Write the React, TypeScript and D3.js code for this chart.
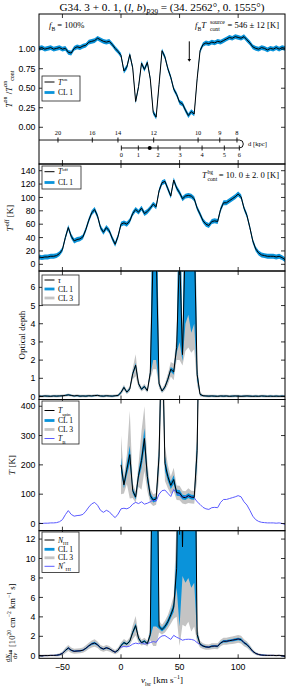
import React from "react";
import * as d3 from "d3";

// velocity channels (km/s)
const vel = [
  -70, -67.5, -65, -62.5, -60, -57.5, -55, -52.5, -50, -47.5,
  -45, -42.5, -40, -37.5, -35, -32.5, -30, -27.5, -25, -22.5,
  -20, -17.5, -15, -12.5, -10, -7.5, -5, -2.5, 0, 2.5,
  5, 7.5, 10, 12.5, 15, 17.5, 20, 22.5, 25, 27.5,
  30, 32.5, 35, 37.5, 40, 42.5, 45, 47.5, 50, 52.5,
  55, 57.5, 60, 62.5, 65, 67.5, 70, 72.5, 75, 77.5,
  80, 82.5, 85, 87.5, 90, 92.5, 95, 97.5, 100, 102.5,
  105, 107.5, 110, 112.5, 115, 117.5, 120, 122.5, 125, 127.5,
  130, 132.5, 135, 137.5, 140,
];

// T_on / T_on_cont
const tOn = [
  1.01, 1.02, 1.0, 1.01, 1.02, 1.0, 1.01, 1.02, 1.0, 1.01,
  0.96, 0.95, 1.01, 1.03, 1.02, 1.04, 1.05, 1.09, 1.1, 1.11,
  1.14, 1.12, 1.1, 1.09, 1.1, 1.06, 1.01, 0.97, 0.92, 0.72,
  0.77, 0.93, 0.76, 0.33, 0.52, 0.82, 0.74, 0.83, 0.62, 0.19,
  0.13, 0.55, 0.98, 0.9, 0.75, 0.64, 0.49, 0.42, 0.32, 0.3,
  0.22, 0.15, 0.2, 0.17, 0.62, 0.98, 1.06, 1.08, 1.07, 1.09,
  1.08, 1.1, 1.09, 1.11, 1.13, 1.15, 1.14, 1.16, 1.15, 1.14,
  1.16, 1.12, 1.08, 1.03, 1.01, 1.0, 1.02, 1.01, 0.99, 1.01,
  1.0, 1.02, 1.0, 1.02, 1.01,
];
const tOnErr = 0.03;

// T_off [K]
const tOff = [
  11, 10, 11, 11, 12, 12, 13, 16, 22, 40,
  55, 42, 35, 37, 38, 41, 52, 66, 77, 82,
  72, 55, 48, 55, 50, 39, 30, 42, 60, 62,
  60, 65, 76, 82, 78, 84, 76, 79, 84, 90,
  86, 110, 122, 124, 113, 102, 126, 114, 107, 98,
  102, 103, 102, 98, 84, 75, 65, 60, 58, 64,
  65, 64, 82, 92, 92, 95, 98, 101, 105, 101,
  84, 73, 55, 35, 23, 17, 14, 13, 12, 12,
  12, 11, 12, 10, 7,
];
const tOffErr = 3.7;

// optical depth and CL half-widths
const tau = [
  0.02, 0.01, 0.03, 0.02, 0.01, 0.03, 0.02, 0.03, 0.04, 0.06,
  0.09, 0.06, 0.03, 0.05, 0.02, 0.03, 0.02, 0.04, 0.03, 0.05,
  0.06, 0.03, 0.02, 0.04, 0.03, 0.02, 0.04, 0.06, 0.22, 0.5,
  0.24, 0.42, 1.25, 1.72, 0.7, 0.4, 0.55, 0.32, 1.3, 8,
  8, 0.7, 0.3, 0.52, 0.95, 1.5, 1.35, 2.7, 8, 2.3,
  9, 9, 9, 9, 1.2, 0.12, 0.04, 0.03, 0.02, 0.03,
  0.02, 0.01, 0.03, 0.02, 0.03, 0.01, 0.02, 0.03, 0.02, 0.01,
  0.02, 0.03, 0.02, 0.01, 0.02, 0.01, 0.03, 0.02, 0.01, 0.02,
  0.01, 0.02, 0.01, 0.02, 0.01,
];
const tauCl1 = [
  0.03, 0.03, 0.03, 0.03, 0.03, 0.03, 0.03, 0.03, 0.03, 0.03,
  0.03, 0.03, 0.03, 0.03, 0.03, 0.03, 0.03, 0.03, 0.03, 0.03,
  0.03, 0.03, 0.03, 0.03, 0.03, 0.03, 0.03, 0.04, 0.05, 0.06,
  0.05, 0.06, 0.1, 0.12, 0.07, 0.05, 0.06, 0.05, 0.15, 6,
  6, 0.1, 0.05, 0.07, 0.1, 0.12, 0.15, 0.3, 5, 0.35,
  5, 4.5, 5.5, 5, 0.3, 0.05, 0.03, 0.03, 0.03, 0.03,
  0.03, 0.03, 0.03, 0.03, 0.03, 0.03, 0.03, 0.03, 0.03, 0.03,
  0.03, 0.03, 0.03, 0.03, 0.03, 0.03, 0.03, 0.03, 0.03, 0.03,
  0.03, 0.03, 0.03, 0.03, 0.03,
];
const tauCl3 = [
  0.07, 0.07, 0.07, 0.07, 0.07, 0.07, 0.07, 0.07, 0.07, 0.07,
  0.08, 0.07, 0.07, 0.07, 0.07, 0.07, 0.07, 0.07, 0.07, 0.07,
  0.07, 0.07, 0.07, 0.07, 0.07, 0.07, 0.07, 0.08, 0.12, 0.15,
  0.12, 0.15, 0.3, 0.6, 0.2, 0.12, 0.15, 0.12, 0.35, 6.5,
  6.5, 0.25, 0.12, 0.18, 0.3, 0.4, 0.45, 0.7, 6, 0.6,
  6.5, 6.3, 6.6, 6.4, 0.6, 0.12, 0.07, 0.07, 0.07, 0.07,
  0.07, 0.07, 0.07, 0.07, 0.07, 0.07, 0.07, 0.07, 0.07, 0.07,
  0.07, 0.07, 0.07, 0.07, 0.07, 0.07, 0.07, 0.07, 0.07, 0.07,
  0.07, 0.07, 0.07, 0.07, 0.07,
];

// brightness temperature T_B [K]
const tB = [
  1, 0, 1, 1, 2, 2, 3, 6, 13, 30,
  44, 31, 25, 27, 28, 31, 42, 56, 67, 72,
  62, 45, 38, 45, 40, 29, 20, 32, 50, 52,
  50, 55, 66, 72, 68, 74, 66, 69, 74, 80,
  76, 100, 112, 114, 103, 92, 116, 104, 97, 88,
  92, 93, 92, 88, 74, 65, 55, 50, 48, 54,
  55, 54, 72, 82, 82, 85, 88, 91, 95, 91,
  74, 63, 45, 25, 13, 7, 4, 3, 2, 2,
  2, 1, 2, 0, -3,
];

// spin temperature, only where absorption is detected
const velSpin = [
  0, 2.5, 5, 7.5, 10, 12.5, 15, 17.5, 20, 22.5,
  25, 27.5, 30, 32.5, 35, 37.5, 40, 42.5, 45, 47.5,
  50, 52.5, 55, 57.5, 60, 62.5, 65, 67.5,
];
const tSpin = [
  200, 132, 185, 235, 112, 90, 165, 215, 290, 160,
  95, 80, 84, 230, 700, 205, 160, 130, 150, 105,
  104, 90, 88, 95, 90, 89, 250, 900,
];
const tSpinCl1 = [
  25, 12, 20, 30, 10, 8, 15, 25, 35, 20,
  10, 8, 8, 30, 100, 25, 15, 12, 15, 10,
  10, 8, 8, 8, 8, 8, 40, 100,
];
const tSpinCl3 = [
  100, 30, 50, 150, 25, 20, 40, 100, 110, 50,
  25, 20, 20, 80, 200, 60, 40, 30, 40, 25,
  25, 22, 22, 25, 22, 22, 100, 200,
];

// dN_HI/dv [1e20 cm^-2 km^-1 s]
const nHI = [
  0.02, 0.0, 0.02, 0.02, 0.04, 0.04, 0.05, 0.11, 0.24, 0.55,
  0.8, 0.57, 0.46, 0.49, 0.51, 0.57, 0.77, 1.02, 1.22, 1.31,
  1.13, 0.82, 0.69, 0.82, 0.73, 0.53, 0.37, 0.58, 1.05, 1.35,
  1.2, 1.5, 2.4, 3.1, 1.8, 1.35, 1.5, 1.25, 2.2, 30,
  30, 3.0, 2.7, 3.0, 3.5, 4.2, 5.0, 9, 30, 11.2,
  30, 30, 30, 30, 2.2, 1.2, 1.0, 0.91, 0.88, 0.98,
  1.0, 0.98, 1.31, 1.49, 1.49, 1.55, 1.6, 1.66, 1.73, 1.66,
  1.35, 1.15, 0.82, 0.46, 0.24, 0.13, 0.07, 0.05, 0.04, 0.04,
  0.04, 0.02, 0.04, 0.0, -0.05,
];
const nHICl1 = [
  0.05, 0.05, 0.05, 0.05, 0.05, 0.05, 0.05, 0.06, 0.07, 0.08,
  0.1, 0.08, 0.08, 0.08, 0.08, 0.08, 0.09, 0.1, 0.11, 0.12,
  0.1, 0.09, 0.08, 0.09, 0.08, 0.07, 0.06, 0.08, 0.1, 0.12,
  0.1, 0.12, 0.2, 0.25, 0.15, 0.1, 0.12, 0.1, 0.3, 27,
  27, 0.25, 0.2, 0.25, 0.3, 0.35, 0.5, 2, 27, 3,
  22.5, 22, 23, 22.5, 0.3, 0.12, 0.1, 0.09, 0.09, 0.1,
  0.1, 0.1, 0.11, 0.12, 0.12, 0.12, 0.12, 0.13, 0.13, 0.13,
  0.12, 0.11, 0.1, 0.08, 0.06, 0.05, 0.05, 0.05, 0.05, 0.05,
  0.05, 0.05, 0.05, 0.05, 0.05,
];
const nHICl3 = [
  0.1, 0.1, 0.1, 0.1, 0.1, 0.1, 0.12, 0.15, 0.2, 0.28,
  0.32, 0.28, 0.25, 0.26, 0.26, 0.27, 0.3, 0.33, 0.36, 0.38,
  0.34, 0.3, 0.28, 0.3, 0.28, 0.25, 0.22, 0.26, 0.32, 0.38,
  0.32, 0.4, 0.7, 1.0, 0.45, 0.3, 0.35, 0.3, 0.6, 29,
  29, 0.6, 0.5, 0.6, 0.7, 0.9, 1.2, 5, 29, 8,
  27, 26.5, 27.5, 27, 0.8, 0.35, 0.3, 0.28, 0.27, 0.3,
  0.3, 0.3, 0.33, 0.36, 0.36, 0.37, 0.38, 0.4, 0.4, 0.4,
  0.36, 0.33, 0.28, 0.2, 0.15, 0.12, 0.1, 0.1, 0.1, 0.1,
  0.1, 0.1, 0.1, 0.1, 0.1,
];
// optically thin column density N*_HI
const nStar = [
  0.02, 0.0, 0.02, 0.02, 0.04, 0.04, 0.05, 0.11, 0.24, 0.55,
  0.8, 0.57, 0.46, 0.49, 0.51, 0.57, 0.77, 1.02, 1.22, 1.31,
  1.13, 0.82, 0.69, 0.82, 0.73, 0.53, 0.37, 0.58, 0.9, 0.95,
  0.92, 1.0, 1.2, 1.3, 1.24, 1.35, 1.2, 1.26, 1.35, 1.46,
  1.39, 1.82, 2.04, 2.08, 1.88, 1.68, 2.1, 1.9, 1.77, 1.6,
  1.68, 1.7, 1.68, 1.6, 1.35, 1.18, 1.0, 0.91, 0.88, 0.98,
  1.0, 0.98, 1.31, 1.49, 1.49, 1.55, 1.6, 1.66, 1.73, 1.66,
  1.35, 1.15, 0.82, 0.46, 0.24, 0.13, 0.07, 0.05, 0.04, 0.04,
  0.04, 0.02, 0.04, 0.0, -0.05,
];

// kinematic distance axis
const distFar = [20, 16, 14, 12, 10, 9, 8];
const distFarVel = [-53.8, -24.5, -2.6, 27.9, 65.8, 84.3, 99];
const distNear = [0, 1, 2, 3, 4, 5, 6];
const distNearVel = [0.3, 14.8, 31.6, 50.4, 69.2, 88.2, 101];
const tangentVel = 101;
const sourceVel = 24.5;
const arrowVel = 58.3;

const velTicks = [-50, 0, 50, 100];

const BLUE = "#0a93da";
const GREY = "#c4c4c4";
const TBCOL = "#5a5aff";
const SANS = "Liberation Sans, Arial, sans-serif";
const SERIF = "Liberation Serif, Times New Roman, serif";

const X = d3.scaleLinear().domain([-70, 140]).range([39, 285]);
const L = 39, R = 285;

const y1 = d3.scaleLinear().domain([-0.47, 1.45]).range([164, 14]);
const y2 = d3.scaleLinear().domain([-10, 150]).range([271, 164]);
const y3 = d3.scaleLinear().domain([-0.165, 6.9]).range([399.5, 271]);
const y4 = d3.scaleLinear().domain([-24.6, 423]).range([530.7, 399.5]);
const y5 = d3.scaleLinear().domain([-0.26, 12.86]).range([658.3, 530.7]);

type Sc = d3.ScaleLinear<number, number>;

function band(xs: number[], vals: number[], err: number[] | number, y: Sc) {
  const e = (i: number) => (typeof err === "number" ? err : err[i]);
  return (
    d3
      .area<number>()
      .x((i) => X(xs[i]))
      .y0((i) => y(vals[i] - e(i)))
      .y1((i) => y(vals[i] + e(i)))(d3.range(xs.length)) || ""
  );
}

function line(xs: number[], vals: number[], y: Sc) {
  return (
    d3
      .line<number>()
      .x((i) => X(xs[i]))
      .y((i) => y(vals[i]))(d3.range(xs.length)) || ""
  );
}

type Seg = { t: string; i?: boolean; s?: "p" | "b"; dx?: number };

function M(props: {
  x?: number;
  y?: number;
  fs: number;
  segs: Seg[];
  anchor?: string;
  transform?: string;
}) {
  const { x, y, fs, segs, anchor, transform } = props;
  let shift = 0;
  return (
    <text x={x} y={y} fontSize={fs} textAnchor={anchor} transform={transform} fontFamily={SERIF}>
      {segs.map((g, k) => {
        const target = g.s === "p" ? -0.45 * fs : g.s === "b" ? 0.32 * fs : 0;
        const dy = target - shift;
        shift = target;
        return (
          <tspan
            key={k}
            dy={dy}
            dx={g.dx}
            fontStyle={g.i ? "italic" : "normal"}
            fontSize={g.s ? fs * 0.66 : fs}
          >
            {g.t}
          </tspan>
        );
      })}
    </text>
  );
}

function Frame(props: { y: Sc; top: number; bottom: number; ticks: number[]; fmt: (v: number) => string }) {
  const { y, top, bottom, ticks, fmt } = props;
  const tl = 4;
  return (
    <g>
      <rect x={L} y={top} width={R - L} height={bottom - top} fill="none" stroke="#000" strokeWidth={1} />
      {velTicks.map((v) => (
        <g key={"x" + v}>
          <line x1={X(v)} x2={X(v)} y1={bottom} y2={bottom - tl} stroke="#000" strokeWidth={0.8} />
          <line x1={X(v)} x2={X(v)} y1={top} y2={top + tl} stroke="#000" strokeWidth={0.8} />
        </g>
      ))}
      {ticks.map((t) => (
        <g key={"y" + t}>
          <line x1={L} x2={L + tl} y1={y(t)} y2={y(t)} stroke="#000" strokeWidth={0.8} />
          <line x1={R} x2={R - tl} y1={y(t)} y2={y(t)} stroke="#000" strokeWidth={0.8} />
          <text x={35.5} y={y(t) + 3.1} fontSize={8.8} fontFamily={SANS} textAnchor="end">
            {fmt(t)}
          </text>
        </g>
      ))}
    </g>
  );
}

type Entry = { kind: "line" | "cl1" | "cl3" | "tb"; segs: Seg[] };

function Legend(props: { x: number; y: number; w: number; h: number; rows: number[]; entries: Entry[] }) {
  const { x, y, w, h, rows, entries } = props;
  return (
    <g>
      <rect x={x} y={y} width={w} height={h} fill="#fff" stroke="#222" strokeWidth={0.8} />
      {entries.map((e, k) => {
        const col = e.kind === "line" ? "#000" : e.kind === "cl1" ? BLUE : e.kind === "cl3" ? GREY : TBCOL;
        const sw = e.kind === "line" || e.kind === "tb" ? 1 : 2.8;
        return (
          <g key={k}>
            <line x1={x + 2.5} x2={x + 12.5} y1={rows[k]} y2={rows[k]} stroke={col} strokeWidth={sw} />
            <M x={x + 16} y={rows[k] + 2.6} fs={7.6} segs={e.segs} />
          </g>
        );
      })}
    </g>
  );
}

const CL1: Seg[] = [{ t: "CL 1" }];
const CL3: Seg[] = [{ t: "CL 3" }];

export default function App() {
  const clip = (id: string, top: number, bottom: number) => (
    <clipPath id={id}>
      <rect x={L} y={top} width={R - L} height={bottom - top} />
    </clipPath>
  );
  const yU = y1(-0.163);
  const yLo = y1(-0.265);
  const xT = X(tangentVel);
  const xa = X(arrowVel);

  return (
    <svg
      width={287}
      height={688}
      style={{ position: "absolute", left: 0, top: 0, background: "#fff" }}
      fontFamily={SERIF}
    >
      <defs>
        {clip("c1", 14, 164)}
        {clip("c2", 164, 271)}
        {clip("c3", 271, 399.5)}
        {clip("c4", 399.5, 530.7)}
        {clip("c5", 530.7, 658.3)}
      </defs>
      <rect x={0} y={0} width={287} height={688} fill="#fff" />

      {/* title */}
      <M
        x={162}
        y={11}
        fs={11.2}
        anchor="middle"
        segs={[
          { t: "G34. 3 + 0. 1, (" },
          { t: "l", i: true },
          { t: ", " },
          { t: "b", i: true },
          { t: ")" },
          { t: "P39", s: "b", i: true },
          { t: " = (34. 2562°, 0. 1555°)" },
        ]}
      />

      {/* panel 1: T_on / T_on_cont */}
      <g clipPath="url(#c1)">
        <path d={band(vel, tOn, tOnErr, y1)} fill={BLUE} />
        <path d={line(vel, tOn, y1)} fill="none" stroke="#000" strokeWidth={1} />
      </g>
      <Frame y={y1} top={14} bottom={164} ticks={[0, 0.25, 0.5, 0.75, 1]} fmt={(v) => v.toFixed(2)} />
      <M x={49} y={28} fs={8.6} segs={[{ t: "f", i: true }, { t: "B", s: "b" }, { t: " = 100%" }]} />
      {/* stacked super/subscript drawn as separate pieces */}
      <M
        x={279}
        y={28}
        fs={8.6}
        anchor="end"
        segs={[{ t: "= 546 ± 12 [K]" }]}
      />
      <M x={195} y={28} fs={8.6} segs={[{ t: "f", i: true }, { t: "B", s: "b" }, { t: "T", i: true }]} />
      <text x={210} y={24} fontSize={5.7} fontFamily={SERIF}>source</text>
      <text x={210} y={31} fontSize={5.7} fontFamily={SERIF}>cont</text>
      <line x1={xa} x2={xa} y1={y1(1.1)} y2={y1(0.87)} stroke="#000" strokeWidth={1} />
      <path d={`M${xa - 1.8},${y1(0.875)} L${xa + 1.8},${y1(0.875)} L${xa},${y1(0.84)} Z`} fill="#000" />
      <Legend
        x={42}
        y={76}
        w={38}
        h={25}
        rows={[82, 92.5]}
        entries={[
          { kind: "line", segs: [{ t: "T", i: true }, { t: "on", s: "p" }] },
          { kind: "cl1", segs: CL1 },
        ]}
      />
      {/* distance axis */}
      <g stroke="#000" strokeWidth={0.9} fill="none">
        <line x1={L} x2={xT} y1={yU} y2={yU} />
        <line x1={X(distNearVel[0])} x2={xT} y1={yLo} y2={yLo} />
        <path d={`M${xT},${yU} A${(yLo - yU) / 2},${(yLo - yU) / 2} 0 0 1 ${xT},${yLo}`} />
        {distFarVel.map((v, k) => (
          <line key={"f" + k} x1={X(v)} x2={X(v)} y1={yU - 2.5} y2={yU + 2.5} />
        ))}
        {distNearVel.map((v, k) => (
          <line key={"n" + k} x1={X(v)} x2={X(v)} y1={yLo - 2.5} y2={yLo + 2.5} />
        ))}
      </g>
      {distFar.map((d, k) => (
        <text key={"ft" + k} x={X(distFarVel[k])} y={yU - 4.8} fontSize={6.4} textAnchor="middle" fill="#000">
          {d}
        </text>
      ))}
      {distNear.map((d, k) => (
        <text key={"nt" + k} x={X(distNearVel[k])} y={yLo + 9} fontSize={6.4} textAnchor="middle" fill="#000">
          {d}
        </text>
      ))}
      <circle cx={X(sourceVel)} cy={yLo} r={2} fill="#000" />
      <text x={248} y={yU + 6.2} fontSize={6.6}>
        d [kpc]
      </text>

      {/* panel 2: T_off */}
      <g clipPath="url(#c2)">
        <path d={band(vel, tOff, tOffErr, y2)} fill={BLUE} />
        <path d={line(vel, tOff, y2)} fill="none" stroke="#000" strokeWidth={1} />
      </g>
      <Frame y={y2} top={164} bottom={271} ticks={[0, 20, 40, 60, 80, 100, 120, 140]} fmt={(v) => String(v)} />
      <M x={202} y={177.5} fs={8.6} segs={[{ t: "T", i: true }]} />
      <text x={207.5} y={173.5} fontSize={5.7} fontFamily={SERIF}>bg</text>
      <text x={207.5} y={180.5} fontSize={5.7} fontFamily={SERIF}>cont</text>
      <M x={279} y={177.5} fs={8.6} anchor="end" segs={[{ t: "= 10. 0 ± 2. 0 [K]" }]} />
      <Legend
        x={42}
        y={166}
        w={39}
        h={23}
        rows={[171.7, 182.5]}
        entries={[
          { kind: "line", segs: [{ t: "T", i: true }, { t: "off", s: "p" }] },
          { kind: "cl1", segs: CL1 },
        ]}
      />

      {/* panel 3: optical depth */}
      <g clipPath="url(#c3)">
        <path d={band(vel, tau, tauCl3, y3)} fill={GREY} />
        <path d={band(vel, tau, tauCl1, y3)} fill={BLUE} />
        <path d={line(vel, tau, y3)} fill="none" stroke="#000" strokeWidth={1} />
      </g>
      <Frame y={y3} top={271} bottom={399.5} ticks={[0, 1, 2, 3, 4, 5, 6]} fmt={(v) => String(v)} />
      <Legend
        x={42}
        y={275}
        w={37}
        h={30}
        rows={[280, 289, 298]}
        entries={[
          { kind: "line", segs: [{ t: "τ", i: true }] },
          { kind: "cl1", segs: CL1 },
          { kind: "cl3", segs: CL3 },
        ]}
      />

      {/* panel 4: temperatures */}
      <g clipPath="url(#c4)">
        <path d={band(velSpin, tSpin, tSpinCl3, y4)} fill={GREY} />
        <path d={band(velSpin, tSpin, tSpinCl1, y4)} fill={BLUE} />
        <path d={line(vel, tB, y4)} fill="none" stroke={TBCOL} strokeWidth={1} />
        <path d={line(velSpin, tSpin, y4)} fill="none" stroke="#000" strokeWidth={1} />
      </g>
      <Frame y={y4} top={399.5} bottom={530.7} ticks={[0, 100, 200, 300, 400]} fmt={(v) => String(v)} />
      <Legend
        x={42}
        y={401}
        w={37}
        h={43}
        rows={[410.5, 420.5, 429.5, 438.5]}
        entries={[
          { kind: "line", segs: [{ t: "T", i: true }, { t: "spin", s: "b" }] },
          { kind: "cl1", segs: CL1 },
          { kind: "cl3", segs: CL3 },
          { kind: "tb", segs: [{ t: "T", i: true }, { t: "B", s: "b" }] },
        ]}
      />

      {/* panel 5: column density */}
      <g clipPath="url(#c5)">
        <path d={band(vel, nHI, nHICl3, y5)} fill={GREY} />
        <path d={band(vel, nHI, nHICl1, y5)} fill={BLUE} />
        <path d={line(vel, nStar, y5)} fill="none" stroke={TBCOL} strokeWidth={1} />
        <path d={line(vel, nHI, y5)} fill="none" stroke="#000" strokeWidth={1} />
      </g>
      <Frame y={y5} top={530.7} bottom={658.3} ticks={[0, 2, 4, 6, 8, 10, 12]} fmt={(v) => String(v)} />
      <Legend
        x={42}
        y={532}
        w={37}
        h={40.5}
        rows={[540, 549.3, 557.8, 566.3]}
        entries={[
          { kind: "line", segs: [{ t: "N", i: true }, { t: "HI", s: "b" }] },
          { kind: "cl1", segs: CL1 },
          { kind: "cl3", segs: CL3 },
          { kind: "tb", segs: [{ t: "N", i: true }, { t: "*", s: "p" }, { t: "HI", s: "b" }] },
        ]}
      />

      {/* x tick labels */}
      {velTicks.map((v) => (
        <text key={"xl" + v} x={X(v)} y={669.5} fontSize={8.8} fontFamily={SANS} textAnchor="middle">
          {v < 0 ? "\u2212" + Math.abs(v) : v}
        </text>
      ))}
      <M
        x={162}
        y={683}
        fs={9}
        anchor="middle"
        segs={[{ t: "v", i: true }, { t: "lsr", s: "b" }, { t: " [km s" }, { t: "−1", s: "p" }, { t: "]" }]}
      />

      {/* y labels */}
      <M
        transform="translate(11.5,89) rotate(-90)"
        fs={9}
        anchor="middle"
        segs={[
          { t: "T", i: true },
          { t: "on", s: "p" },
          { t: " /" },
          { t: "T", i: true },
          { t: "on", s: "p" },
          { t: "cont", s: "b" },
        ]}
      />
      <M
        transform="translate(13,218) rotate(-90)"
        fs={9}
        anchor="middle"
        segs={[{ t: "T", i: true }, { t: "off", s: "p" }, { t: " [K]" }]}
      />
      <M transform="translate(25,335) rotate(-90)" fs={9} anchor="middle" segs={[{ t: "Optical depth" }]} />
      <M
        transform="translate(15,465) rotate(-90)"
        fs={9}
        anchor="middle"
        segs={[{ t: "T", i: true }, { t: " [K]" }]}
      />
      <g transform="translate(12,600) rotate(-90)">
        <M x={-62} y={-2.5} fs={6.6} segs={[{ t: "d" }, { t: "N", i: true }, { t: "HI", s: "b" }]} />
        <line x1={-62} x2={-50} y1={-0.8} y2={-0.8} stroke="#000" strokeWidth={0.6} />
        <M x={-59} y={5} fs={6.6} segs={[{ t: "d" }, { t: "v", i: true }]} />
        <M
          x={-47}
          y={2.5}
          fs={8.6}
          segs={[
            { t: "[10" },
            { t: "20", s: "p" },
            { t: " cm" },
            { t: "−2", s: "p" },
            { t: " km" },
            { t: "−1", s: "p" },
            { t: " s]" },
          ]}
        />
      </g>
    </svg>
  );
}
